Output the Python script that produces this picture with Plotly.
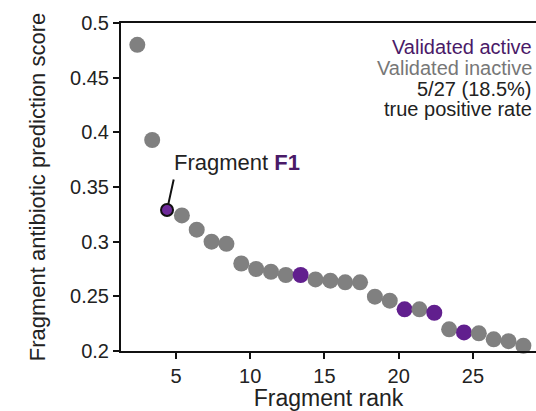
import plotly.graph_objects as go

# Data
rank_x = [2.4, 3.4, 4.4, 5.4, 6.4, 7.4, 8.4, 9.4, 10.4, 11.4, 12.4, 13.4, 14.4, 15.4,
          16.4, 17.4, 18.4, 19.4, 20.4, 21.4, 22.4, 23.4, 24.4, 25.4, 26.4, 27.4, 28.4]
scores = [0.480, 0.393, 0.329, 0.324, 0.311, 0.300, 0.298, 0.280, 0.275, 0.2725, 0.2695,
          0.2695, 0.2655, 0.2643, 0.2628, 0.2628, 0.2497, 0.246, 0.2381, 0.2381, 0.235,
          0.2198, 0.217, 0.2162, 0.2107, 0.209, 0.2048]
active = [0, 0, 1, 0, 0, 0, 0, 0, 0, 0, 0, 1, 0, 0, 0, 0, 0, 0, 1, 0, 1, 0, 1, 0, 0, 0, 0]
f1_index = 2
x_ticks = [5, 10, 15, 20, 25]
y_ticks = [0.2, 0.25, 0.3, 0.35, 0.4, 0.45, 0.5]
y_ticklabels = ["0.2", "0.25", "0.3", "0.35", "0.4", "0.45", "0.5"]

GRAY = "#808080"
PURPLE = "#611f8e"
PURPLE_TEXT = "#4a1a68"
FONT = "Liberation Sans, Arial, sans-serif"

fig = go.Figure()

colors = [PURPLE if a else GRAY for a in active]
xs = [x for i, x in enumerate(rank_x) if i != f1_index]
ys = [y for i, y in enumerate(scores) if i != f1_index]
cs = [c for i, c in enumerate(colors) if i != f1_index]

fig.add_trace(go.Scatter(
    x=xs, y=ys, mode="markers",
    marker=dict(size=16, color=cs, line=dict(width=0)),
    hoverinfo="skip", showlegend=False, cliponaxis=False,
))
fig.add_trace(go.Scatter(
    x=[rank_x[f1_index]], y=[scores[f1_index]], mode="markers",
    marker=dict(size=12, color="#6e2a9a", line=dict(width=2, color="#111")),
    hoverinfo="skip", showlegend=False, cliponaxis=False,
))

# Leader line for F1
fig.add_annotation(
    x=rank_x[f1_index], y=scores[f1_index], xref="x", yref="y",
    text="", showarrow=True, arrowhead=0, arrowwidth=2, arrowcolor="#111",
    ax=7, ay=-32, standoff=6,
)
fig.add_annotation(
    x=rank_x[f1_index], y=scores[f1_index], xref="x", yref="y",
    text="Fragment <b><span style='color:%s'>F1</span></b>" % PURPLE_TEXT,
    showarrow=False, xanchor="left", yanchor="middle", xshift=5, yshift=47,
    font=dict(family=FONT, size=22, color="#222"),
)

legend_lines = [
    ("Validated active", PURPLE_TEXT, 47),
    ("Validated inactive", "#777777", 68),
    ("5/27 (18.5%)", "#222222", 89),
    ("true positive rate", "#222222", 109),
]
for txt, col, ypx in legend_lines:
    fig.add_annotation(
        x=1, y=(351 - ypx) / 328, xref="paper", yref="paper",
        text=txt, showarrow=False, xanchor="right", yanchor="middle", xshift=-2,
        font=dict(family=FONT, size=20, color=col),
    )

fig.update_layout(
    width=536, height=411,
    margin=dict(l=121, r=0, t=23, b=60),
    plot_bgcolor="white", paper_bgcolor="white",
    font=dict(family=FONT, size=19, color="#222"),
    xaxis=dict(
        range=[1.3, 29.25], tickvals=x_ticks, ticks="outside", ticklen=6, tickwidth=2,
        tickcolor="#111", showline=True, linecolor="#111", linewidth=2, mirror=True,
        showgrid=False, zeroline=False,
        title=dict(text="Fragment rank", standoff=4),
        tickfont=dict(family=FONT, size=20, color="#222"),
    ),
    yaxis=dict(
        range=[0.2, 0.5], tickvals=y_ticks, ticktext=y_ticklabels, ticks="outside",
        ticklen=6, tickwidth=2, tickcolor="#111", showline=True, linecolor="#111",
        linewidth=2, showgrid=False, zeroline=False,
        title=dict(text="Fragment antibiotic prediction score", standoff=18),
        title_font_size=22,
        tickfont=dict(family=FONT, size=20, color="#222"),
    ),
)

fig.write_html("out.html")
